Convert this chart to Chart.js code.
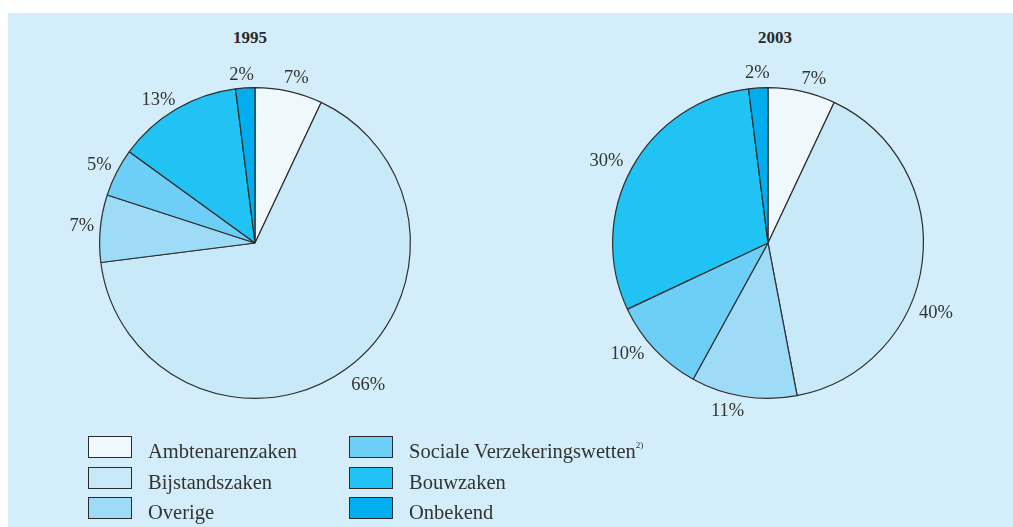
<!DOCTYPE html>
<html>
<head>
<meta charset="utf-8">
<script src="https://cdn.jsdelivr.net/npm/chart.js@4.4.1/dist/chart.umd.min.js"></script>
<style>
  body { margin: 0; background: #fff; width: 1013px; height: 527px; overflow: hidden; }
  #panel { position: absolute; left: 8px; top: 13px; width: 1005px; height: 514px; background: #d3eefa; }
  .wrap { position: absolute; top: 43px; width: 400px; height: 400px; }
  .title { position: absolute; top: 28px; width: 200px; text-align: center;
           font: bold 17px "Liberation Serif", "DejaVu Serif", serif; color: #2a2a2a; }
  .leg { position: absolute; font: 20.5px "Liberation Serif", "DejaVu Serif", serif; color: #333; }
  .leg .box { position: absolute; width: 44px; height: 22px; box-sizing: border-box; border: 1.5px solid #2b2b2b; }
  .leg .txt { position: absolute; white-space: nowrap; }
  .leg sup { font-size: 9px; vertical-align: 10px; }
</style>
</head>
<body>
<div id="panel"></div>
<div class="title" style="left:150px">1995</div>
<div class="title" style="left:675px">2003</div>
<div class="wrap" style="left:55px"><canvas id="c1995" width="400" height="400"></canvas></div>
<div class="wrap" style="left:568px"><canvas id="c2003" width="400" height="400"></canvas></div>
<div id="legend"></div>
<script>
// Categories and shares (%) per year
const categories = ['Ambtenarenzaken', 'Bijstandszaken', 'Overige', 'Sociale Verzekeringswetten', 'Bouwzaken', 'Onbekend'];
const values1995 = [7, 66, 7, 5, 13, 2];
const values2003 = [7, 40, 11, 10, 30, 2];

const COLORS = ['#eef8fd', '#c8e9f8', '#9ddbf7', '#6dcff5', '#20c3f3', '#00aeef'];

// small angle tweaks (degrees) so labels sit where the original put them
const LABEL_SHIFT_1995 = [1.5, -2.5, 0, -0.5, -3.5, -1];
const LABEL_SHIFT_2003 = [3, 15.5, 4.5, 5, -2, 0];
const LABEL_DIST_1995 = [170, 182, 174, 174, 172, 168];
const LABEL_DIST_2003 = [170, 182, 173, 179, 181, 170];

const outsideLabels = {
    id: 'outsideLabels',
    afterDatasetsDraw(chart, args, opts) {
        const ctx = chart.ctx;
        const meta = chart.getDatasetMeta(0);
        const data = chart.data.datasets[0].data;
        ctx.save();
        ctx.font = '18.5px "Liberation Serif", "DejaVu Serif", serif';
        ctx.fillStyle = '#333';
        ctx.textAlign = 'center';
        ctx.textBaseline = 'middle';
        meta.data.forEach((arc, i) => {
            const mid = (arc.startAngle + arc.endAngle) / 2 + opts.shift[i] * Math.PI / 180;
            const d = opts.dist[i];
            ctx.fillText(data[i] + '%', arc.x + Math.cos(mid) * d, arc.y + Math.sin(mid) * d);
        });
        ctx.restore();
    }
};

function makePie(id, values, shift, dist) {
    return new Chart(document.getElementById(id), {
        type: 'pie',
        data: {
            labels: categories,
            datasets: [{
                data: values,
                backgroundColor: COLORS,
                borderColor: '#2e2e2e',
                borderWidth: 1.2,
            }]
        },
        options: {
            responsive: false,
            animation: false,
            layout: { padding: 44 },
            plugins: {
                legend: { display: false },
                tooltip: { enabled: false },
                outsideLabels: { shift: shift, dist: dist },
            },
        },
        plugins: [outsideLabels],
    });
}

makePie('c1995', values1995, LABEL_SHIFT_1995, LABEL_DIST_1995);
makePie('c2003', values2003, LABEL_SHIFT_2003, LABEL_DIST_2003);

// legend: two columns, three rows, filled top to bottom
const legend = document.getElementById('legend');
categories.forEach((name, i) => {
    const col = Math.floor(i / 3), row = i % 3;
    const el = document.createElement('div');
    el.className = 'leg';
    el.style.left = (col === 0 ? 88 : 349) + 'px';
    el.style.top = (436 + row * 30.5) + 'px';
    const label = i === 3 ? name + '<sup>2)</sup>' : name;
    el.innerHTML = `<div class="box" style="background:${COLORS[i]}"></div>` +
                   `<div class="txt" style="left:60px; top:4px">${label}</div>`;
    legend.appendChild(el);
});
</script>
</body>
</html>
